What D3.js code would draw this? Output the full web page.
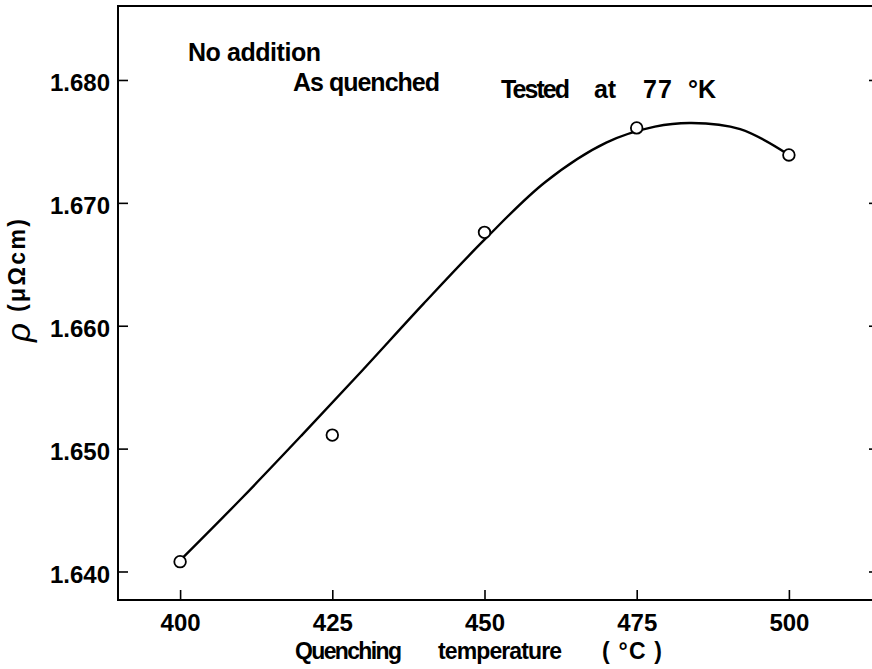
<!DOCTYPE html>
<html>
<head>
<meta charset="utf-8">
<script src="https://cdn.jsdelivr.net/npm/d3@7"></script>
<style>
  body { margin: 0; background: #fff; }
  svg text { font-family: "Liberation Sans", Arial, sans-serif; font-weight: bold; fill: #000; }
</style>
</head>
<body>
<svg width="872" height="669"></svg>
<script>
// measured points
let temps = [400, 425, 450, 475, 500];
let rho = [1.6408, 1.6511, 1.6676, 1.6761, 1.6739];

// hand-drawn curve
let curveTemps = [400, 410, 420, 430, 440, 450, 460, 470, 478, 484, 492, 500];
let curveRho = [1.6409, 1.6459, 1.6511, 1.6564, 1.6618, 1.6670, 1.6717, 1.6749, 1.6762, 1.6765, 1.6760, 1.6739];

let xTicks = [400, 425, 450, 475, 500];
let yTicks = [1.640, 1.650, 1.660, 1.670, 1.680];

let svg = d3.select("svg"),
    plotLeft = 118,
    plotRight = 879,
    plotTop = 6,
    plotBottom = 600,
    tickLen = 10;

let x = d3.scaleLinear()
    .domain([389.8, 514.8])
    .range([plotLeft, plotRight]);

let y = d3.scaleLinear()
    .domain([1.63768, 1.68602])
    .range([plotBottom, plotTop]);

let g = svg.append("g");

// frame
g.append("rect")
    .attr("x", plotLeft)
    .attr("y", plotTop)
    .attr("width", plotRight - plotLeft)
    .attr("height", plotBottom - plotTop)
    .attr("fill", "none")
    .attr("stroke", "#000")
    .attr("stroke-width", 2);

// axes, ticks pointing inside
let xAxis = d3.axisBottom(x).tickValues(xTicks).tickSize(-tickLen).tickSizeOuter(0).tickPadding(14);
let yAxis = d3.axisLeft(y).tickValues(yTicks).tickSize(-tickLen).tickSizeOuter(0)
    .tickPadding(8).tickFormat(d3.format(".3f"));
let yAxisRight = d3.axisRight(y).tickValues(yTicks).tickSize(-tickLen).tickSizeOuter(0).tickFormat("");

let gx = g.append("g")
    .attr("transform", "translate(0," + plotBottom + ")")
    .call(xAxis);
let gy = g.append("g")
    .attr("transform", "translate(" + plotLeft + ",0)")
    .call(yAxis);
let gyr = g.append("g")
    .attr("transform", "translate(" + plotRight + ",0)")
    .call(yAxisRight);

[gx, gy, gyr].forEach(a => {
    a.select(".domain").remove();
    a.selectAll(".tick line").attr("stroke", "#000").attr("stroke-width", 1.6);
    a.selectAll("text").style("font-size", "24px").attr("fill", "#000");
});
gx.selectAll("text").attr("dy", "0.71em");
gy.selectAll("text").attr("dy", "0.45em");

// curve
let line = d3.line()
    .x(d => x(d[0]))
    .y(d => y(d[1]))
    .curve(d3.curveCatmullRom.alpha(0.5));

g.append("path")
    .datum(d3.zip(curveTemps, curveRho))
    .attr("d", line)
    .attr("fill", "none")
    .attr("stroke", "#000")
    .attr("stroke-width", 2.4);

// points
g.selectAll("circle.pt")
    .data(d3.zip(temps, rho))
    .enter().append("circle")
    .attr("class", "pt")
    .attr("cx", d => x(d[0]))
    .attr("cy", d => y(d[1]))
    .attr("r", 5.8)
    .attr("fill", "#fff")
    .attr("stroke", "#000")
    .attr("stroke-width", 1.8);

// annotations
let notes = [
    {t: "No addition", x: 188, y: 61, w: 133},
    {t: "As quenched", x: 293, y: 91, w: 147},
    {t: "Tested", x: 501, y: 98, w: 69},
    {t: "at", x: 594, y: 98, w: 22},
    {t: "77", x: 643, y: 98, w: 29},
    {t: "°K", x: 688, y: 98, w: 28}
];
g.selectAll("text.note")
    .data(notes)
    .enter().append("text")
    .attr("class", "note")
    .attr("x", d => d.x)
    .attr("y", d => d.y)
    .attr("textLength", d => d.w)
    .style("font-size", "25px")
    .text(d => d.t);

// x label
let xLabel = [
    {t: "Quenching", x: 295, w: 107},
    {t: "temperature", x: 438, w: 124},
    {t: "( °C )", x: 602, w: 60}
];
g.selectAll("text.xl")
    .data(xLabel)
    .enter().append("text")
    .attr("class", "xl")
    .attr("x", d => d.x)
    .attr("y", 659)
    .attr("textLength", d => d.w)
    .style("font-size", "23px")
    .text(d => d.t);

// y label, reads bottom to top
let yl = g.append("g")
    .attr("transform", "translate(30,342) rotate(-90)");
yl.append("text")
    .attr("x", 0)
    .attr("y", 0)
    .style("font-size", "33px")
    .style("font-style", "italic")
    .style("font-weight", "normal")
    .text("ρ");
yl.append("text")
    .attr("x", 30)
    .attr("y", -5)
    .attr("textLength", 93)
    .style("font-size", "23px")
    .text("(μΩcm)");
</script>
</body>
</html>
